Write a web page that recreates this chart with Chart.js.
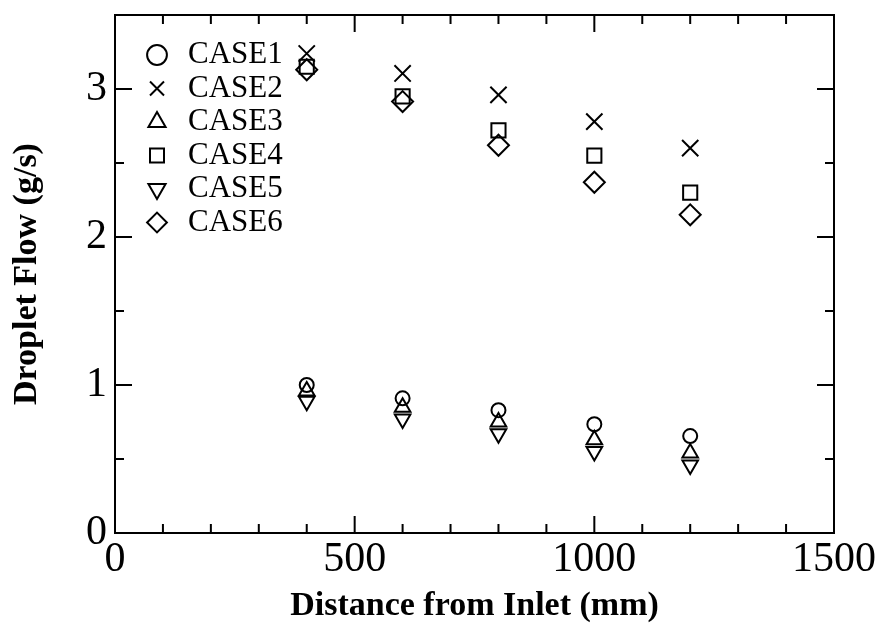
<!DOCTYPE html>
<html>
<head>
<meta charset="utf-8">
<script src="https://cdn.jsdelivr.net/npm/chart.js@4"></script>
<style>
  body { margin: 0; background: #fff; }
</style>
</head>
<body>
<canvas id="chart" width="882" height="625"></canvas>
<script>
// Data
const distances = [400, 600, 800, 1000, 1200];
const case1 = [1.0, 0.91, 0.83, 0.735, 0.655];
const case2 = [3.24, 3.105, 2.96, 2.78, 2.6];
const case3 = [0.96, 0.85, 0.75, 0.63, 0.54];
const case4 = [3.15, 2.95, 2.72, 2.55, 2.3];
const case5 = [0.89, 0.77, 0.67, 0.55, 0.46];
const case6 = [3.13, 2.915, 2.62, 2.37, 2.15];
const caseLabels = ['CASE1', 'CASE2', 'CASE3', 'CASE4', 'CASE5', 'CASE6'];

const xTitle = 'Distance from Inlet (mm)';
const yTitle = 'Droplet Flow (g/s)';

Chart.defaults.font.family = "'Liberation Serif', 'Times New Roman', serif";
Chart.defaults.color = '#000';

const toPoints = (ys) => distances.map((x, i) => ({ x, y: ys[i] }));

const makeSet = (label, ys, pointStyle, radius, rotation) => ({
  label,
  data: toPoints(ys),
  pointStyle,
  pointRadius: radius,
  pointRotation: rotation || 0,
  borderColor: '#000',
  backgroundColor: 'rgba(0,0,0,0)',
  borderWidth: 2,
  pointBorderWidth: 2,
  showLine: false
});

// frame + inward ticks on all four sides
const frameTicks = {
  id: 'frameTicks',
  afterLayout(chart) {
    // legend sits inside the plot, upper left
    chart.legend.left = 139;
    chart.legend.top = 37;
  },
  afterDraw(chart) {
    const { ctx, chartArea: a, scales: { x, y } } = chart;
    ctx.save();
    ctx.strokeStyle = '#000';
    ctx.lineWidth = 2;
    ctx.strokeRect(a.left, a.top, a.right - a.left, a.bottom - a.top);
    ctx.beginPath();
    for (let v = 100; v < 1500; v += 100) {
      const px = x.getPixelForValue(v);
      const len = v % 500 === 0 ? 17 : 9;
      ctx.moveTo(px, a.bottom);
      ctx.lineTo(px, a.bottom - len);
      ctx.moveTo(px, a.top);
      ctx.lineTo(px, a.top + len);
    }
    for (let v = 0.5; v < 3.5; v += 0.5) {
      const py = y.getPixelForValue(v);
      const len = Number.isInteger(v) ? 17 : 9;
      ctx.moveTo(a.left, py);
      ctx.lineTo(a.left + len, py);
      ctx.moveTo(a.right, py);
      ctx.lineTo(a.right - len, py);
    }
    ctx.stroke();
    ctx.restore();
  }
};

new Chart(document.getElementById('chart').getContext('2d'), {
  type: 'scatter',
  data: {
    datasets: [
      makeSet(caseLabels[0], case1, 'circle', 7),
      makeSet(caseLabels[1], case2, 'crossRot', 11.5),
      makeSet(caseLabels[2], case3, 'triangle', 9),
      makeSet(caseLabels[3], case4, 'rect', 10),
      makeSet(caseLabels[4], case5, 'triangle', 9, 180),
      makeSet(caseLabels[5], case6, 'rectRot', 10.5)
    ]
  },
  options: {
    responsive: false,
    animation: false,
    events: [],
    layout: { padding: { top: 15, right: 48, left: 0, bottom: 0 } },
    plugins: {
      tooltip: { enabled: false },
      legend: {
        position: 'chartArea',
        align: 'start',
        labels: {
          usePointStyle: true,
          boxHeight: 14,
          padding: 2.5,
          color: '#000',
          font: { size: 31 }
        }
      }
    },
    scales: {
      x: {
        type: 'linear',
        min: 0,
        max: 1500,
        grid: { display: false, drawTicks: false },
        border: { display: false },
        ticks: {
          stepSize: 500,
          padding: 2,
          font: { size: 42 },
          color: '#000',
          callback: (v) => String(v)
        },
        title: {
          display: true,
          text: xTitle,
          color: '#000',
          font: { size: 34, weight: 'bold', lineHeight: 1 },
          padding: { top: 0, bottom: 1.5 }
        },
        afterFit(scale) {
          scale.height = 92;
          scale.paddingLeft = 0;
          scale.paddingRight = 0;
        }
      },
      y: {
        min: 0,
        max: 3.5,
        grid: { display: false, drawTicks: false },
        border: { display: false },
        ticks: {
          stepSize: 1,
          padding: 8,
          font: { size: 42 },
          color: '#000',
          callback: (v) => String(v)
        },
        afterBuildTicks(scale) {
          scale.ticks = scale.ticks.filter((t) => Number.isInteger(t.value));
        },
        title: {
          display: true,
          text: yTitle,
          color: '#000',
          font: { size: 34, weight: 'bold', lineHeight: 1 },
          padding: { top: 10.5, bottom: 0 }
        },
        afterFit(scale) {
          scale.width = 115;
          scale.paddingTop = 0;
          scale.paddingBottom = 0;
        }
      }
    }
  },
  plugins: [frameTicks]
});
</script>
</body>
</html>
